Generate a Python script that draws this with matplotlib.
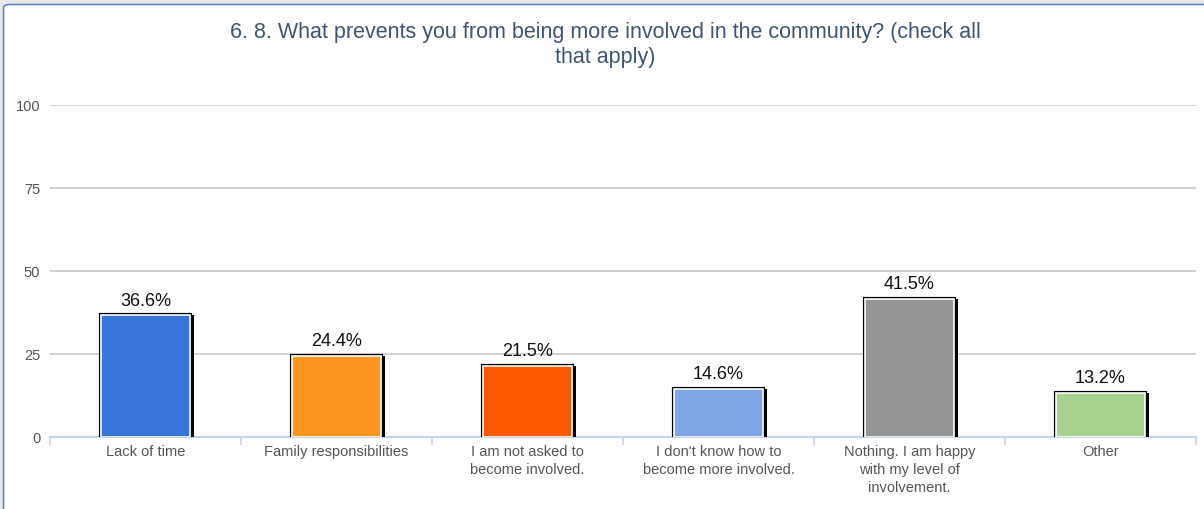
import matplotlib
matplotlib.use("Agg")
import matplotlib.pyplot as plt
import matplotlib.patheffects as pe
from matplotlib.patches import FancyBboxPatch
import numpy as np

# survey answers and their shares (percent)
categories = ["Lack of time", "Family responsibilities", "I am not asked to\nbecome involved.",
              "I don't know how to\nbecome more involved.",
              "Nothing. I am happy\nwith my level of\ninvolvement.", "Other"]
percents = [36.6, 24.4, 21.5, 14.6, 41.5, 13.2]
bar_colors = ["#3775d9", "#fc9621", "#fe5a04", "#7ea6e6", "#959595", "#a7d18e"]
y_ticks = [0, 25, 50, 75, 100]

plt.rcParams['font.family'] = ['Liberation Sans', 'DejaVu Sans']

W, H = 1204, 510
fig = plt.figure(figsize=(W / 100, H / 100), dpi=100, facecolor="#e9e9e9")

# white card with thin blue border
card = FancyBboxPatch((3.5 / W, -20 / H), (W + 20) / W, (H - 5.5 + 20) / H,
                      boxstyle="round,pad=0,rounding_size=0.006", transform=fig.transFigure,
                      facecolor="white", edgecolor="#5b86c0", linewidth=1.2, zorder=-5)
fig.add_artist(card)

ax = fig.add_axes([50 / W, 72 / H, (1196 - 50) / W, (438 - 106) / H])
ax.set_facecolor("none")
ax.set_zorder(2)

x = np.arange(len(categories))
bars = ax.bar(x, percents, width=0.47, color=bar_colors, edgecolor="white",
              linewidth=1.2, zorder=3)
for b in bars:
    b.set_path_effects([
        pe.SimplePatchShadow(offset=(2.4, 0), shadow_rgbFace="black", alpha=1.0),
        pe.Stroke(linewidth=3.0, foreground="black"),
        pe.Normal(),
    ])

for xi, v in zip(x, percents):
    ax.annotate(f"{v}%", (xi, v), xytext=(0, 5), textcoords="offset points",
                ha="center", va="bottom", fontsize=13, color="#111111")

ax.set_xlim(-0.5, len(categories) - 0.5)
ax.set_ylim(0, 100)
ax.set_yticks(y_ticks)
ax.set_yticklabels([str(t) for t in y_ticks])
ax.yaxis.grid(True, color="#cacaca", linewidth=1.2)
ax.set_axisbelow(True)
ax.tick_params(axis="y", length=0, pad=7, labelsize=10.5, labelcolor="#555555")

# category labels sit under bars; ticks go between categories
ax.set_xticks(x)
ax.set_xticklabels(categories, fontsize=10.5, color="#555555", linespacing=1.38)
ax.tick_params(axis="x", length=0, pad=5)
ax.set_xticks(np.arange(-0.5, len(categories)), minor=True)
ax.tick_params(axis="x", which="minor", length=6, color="#c5d5ea", width=1.2)

for s in ["top", "right", "left"]:
    ax.spines[s].set_visible(False)
ax.spines["bottom"].set_color("#c5d5ea")
ax.spines["bottom"].set_linewidth(1.5)

fig.text(605 / W, 1 - 45 / H, "6. 8. What prevents you from being more involved in the community? (check all\nthat apply)",
         ha="center", va="center", fontsize=15.5, color="#3e5672", linespacing=1.2)

fig.savefig("out.png", dpi=100, facecolor=fig.get_facecolor())
